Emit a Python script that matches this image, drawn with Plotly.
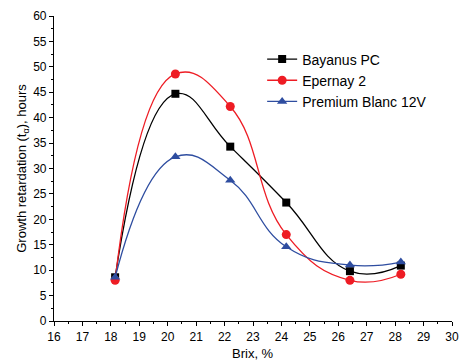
import plotly.graph_objects as go

brix = [18.15, 20.27, 22.2, 24.17, 26.41, 28.2]
bayanus = [8.6, 44.7, 34.3, 23.3, 9.8, 10.9]
epernay = [8.0, 48.6, 42.2, 17.0, 8.0, 9.2]
premium = [8.6, 32.3, 27.7, 14.6, 11.0, 11.6]
names = ["Bayanus PC", "Epernay 2", "Premium Blanc 12V"]
x_title = "Brix, %"
y_title = "Growth retardation (t<sub>α</sub>), hours"

fig = go.Figure()
fig.add_trace(go.Scatter(x=brix, y=bayanus, name=names[0], mode="lines+markers",
                         line=dict(color="#000000", width=1.3, shape="spline", smoothing=1.3),
                         marker=dict(symbol="square", size=8, color="#000000")))
fig.add_trace(go.Scatter(x=brix, y=epernay, name=names[1], mode="lines+markers",
                         line=dict(color="#ee1c24", width=1.3, shape="spline", smoothing=1.3),
                         marker=dict(symbol="circle", size=9, color="#ee1c24")))
fig.add_trace(go.Scatter(x=brix, y=premium, name=names[2], mode="lines+markers",
                         line=dict(color="#2e4da0", width=1.3, shape="spline", smoothing=1.3),
                         marker=dict(symbol="triangle-up", size=9, color="#2e4da0")))

font = "Liberation Sans, Arial, sans-serif"
fig.update_layout(
    width=460, height=362,
    margin=dict(l=54, r=8, t=16, b=41),
    paper_bgcolor="white", plot_bgcolor="white",
    font=dict(family=font, size=12, color="#000"),
    showlegend=True,
    legend=dict(x=0.523, y=0.91, xanchor="left", yanchor="top", bgcolor="rgba(0,0,0,0)",
                font=dict(size=14), tracegroupgap=0, itemwidth=30),
    xaxis=dict(range=[16, 30], dtick=1, tick0=16, showgrid=False, zeroline=False, automargin=False,
               showline=True, linecolor="#000", linewidth=1.2, ticks="outside", ticklen=4,
               tickcolor="#000", minor=dict(dtick=0.5, ticks="outside", ticklen=2, tickcolor="#000")),
    yaxis=dict(range=[0, 60], dtick=5, tick0=0, showgrid=False, zeroline=False, automargin=False,
               showline=True, linecolor="#000", linewidth=1.2, ticks="outside", ticklen=4,
               tickcolor="#000", minor=dict(dtick=2.5, ticks="outside", ticklen=2, tickcolor="#000"),
               title=dict(text=y_title, font=dict(size=13), standoff=3)),
    annotations=[dict(text=x_title, xref="paper", yref="paper", x=0.5, y=-0.108,
                      xanchor="center", yanchor="middle", showarrow=False, font=dict(size=13))],
)
fig.write_html("out.html")
